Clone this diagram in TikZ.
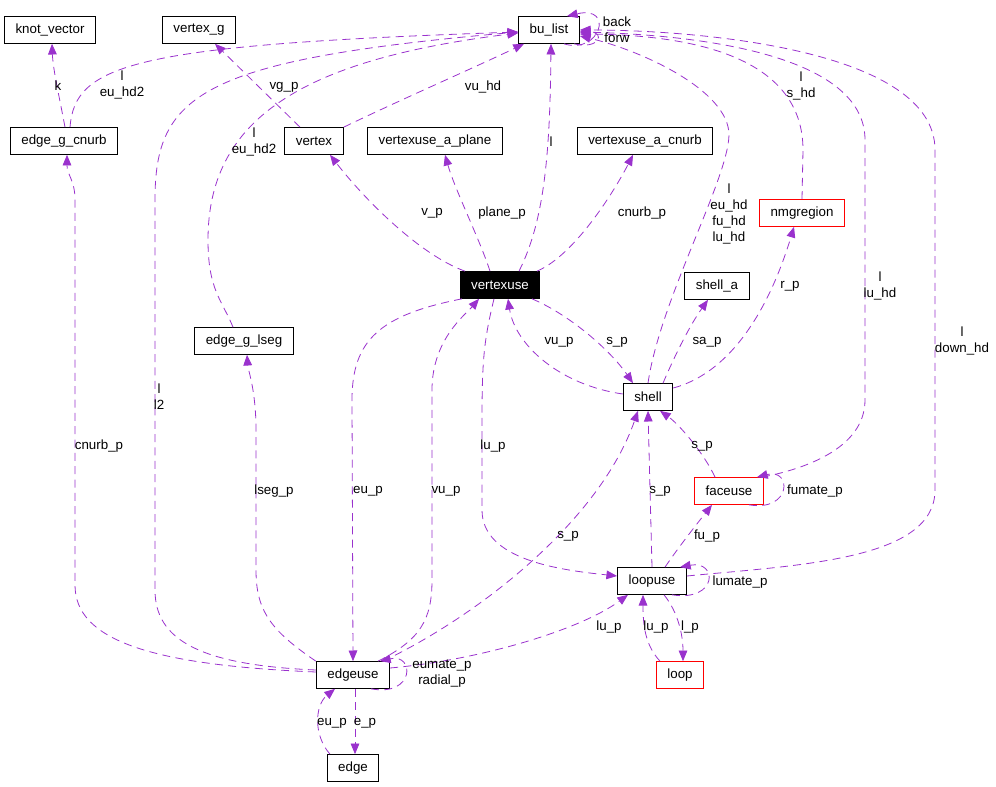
\documentclass[tikz,border=0pt]{standalone}
\usepackage{fontspec}
\setmainfont{Liberation Sans}
\usetikzlibrary{arrows.meta}
\definecolor{orchid}{HTML}{9A32CD}
\begin{document}
\begin{tikzpicture}[x=.75pt,y=-.75pt,>={Triangle[length=8pt,width=6.5pt]},
	cls/.style={draw,line width=.75pt,minimum height=20pt,inner xsep=8.3pt,inner ysep=0pt,font=\fontsize{10}{12}\selectfont},
	redcls/.style={cls,draw=red},
	ptr/.style={->,draw=orchid,line width=.6pt,dash pattern=on 6pt off 4pt},
	lbl/.style={align=center,inner sep=0pt,font=\fontsize{10}{12}\selectfont}]
	\useasboundingbox (0,0) rectangle (996,787);
			\node[cls] (kv) at (50,30) {knot\_vector};
			\node[cls] (vg) at (199,30) {vertex\_g};
			\node[cls] (bl) at (549,30) {bu\_list};
			\node[cls] (egc) at (64,141) {edge\_g\_cnurb};
			\node[cls] (vx) at (314,141) {vertex};
			\node[cls] (vap) at (435,141) {vertexuse\_a\_plane};
			\node[cls] (vac) at (645,141) {vertexuse\_a\_cnurb};
			\node[redcls] (nr) at (802,213) {nmgregion};
			\node[cls,fill=black,text=white] (vu) at (500,285) {vertexuse};
			\node[cls] (sa) at (717,286) {shell\_a};
			\node[cls] (egl) at (244,341) {edge\_g\_lseg};
			\node[cls] (sh) at (648,397) {shell};
			\node[redcls] (fu) at (729,491) {faceuse};
			\node[cls] (lu) at (652,581) {loopuse};
			\node[redcls] (lp) at (680,675) {loop};
			\node[cls] (eu) at (353,675) {edgeuse};
			\node[cls] (ed) at (353,768) {edge};
			\draw[ptr] ([shift={(1,0)}]egc.north) .. controls (60,100) and (53,70) .. ([shift={(2,0)}]kv.south);
			\draw[ptr] ([shift={(6,0)}]egc.north) .. controls (75,65) and (130,45) .. ([shift={(0,2)}]bl.west);
			\draw[ptr] ([shift={(0,-5)}]eu.west) .. controls (200,665) and (155,640) .. (155,590) -- (155,200) .. controls (155,95) and (200,60) .. ([shift={(0,2)}]bl.west);
			\draw[ptr] ([shift={(-11,0)}]egl.north) .. controls (222,300) and (208,290) .. (208,240) .. controls (208,120) and (300,60) .. ([shift={(0,3)}]bl.west);
			\draw[ptr] ([shift={(-14,0)}]vx.north) -- ([shift={(16,0)}]vg.south);
			\draw[ptr] (vx.north east) .. controls (400,100) and (480,65) .. ([shift={(-25,0)}]bl.south);
			\draw[ptr] ([shift={(19,0)}]vu.north) .. controls (545,220) and (550,150) .. ([shift={(2,0)}]bl.south);
			\draw[ptr] (sh.north) .. controls (660,300) and (728,180) .. (729,135) .. controls (729,90) and (640,50) .. ([shift={(0,6)}]bl.east);
			\draw[ptr] (nr.north) -- (803,150) .. controls (803,60) and (700,35) .. ([shift={(0,4)}]bl.east);
			\draw[ptr] ([shift={(-2,0)}]fu.north east) .. controls (800,470) and (865,450) .. (865,400) -- (865,140) .. controls (865,55) and (700,35) .. ([shift={(0,2)}]bl.east);
			\draw[ptr] ([shift={(0,-5)}]lu.east) .. controls (800,565) and (935,560) .. (935,490) -- (935,150) .. controls (935,50) and (700,30) .. (bl.east);
			\draw[ptr] ([shift={(15,0)}]bl.south) .. controls (600,55) and (615,5) .. ([shift={(18,0)}]bl.north);
			\draw[ptr] ([shift={(25,0)}]bl.south) .. controls (600,50) and (605,32) .. ([shift={(0,2)}]bl.east);
			\draw[ptr] ([shift={(-35,0)}]vu.north) .. controls (420,255) and (365,200) .. ([shift={(16,0)}]vx.south);
			\draw[ptr] ([shift={(-10,0)}]vu.north) .. controls (480,240) and (455,190) .. ([shift={(10,0)}]vap.south);
			\draw[ptr] ([shift={(37,0)}]vu.north) .. controls (575,255) and (615,190) .. ([shift={(-12,0)}]vac.south);
			\draw[ptr] ([shift={(0,-9)}]sh.east) .. controls (740,370) and (775,290) .. ([shift={(-8,0)}]nr.south);
			\draw[ptr] ([shift={(15,0)}]sh.north) .. controls (675,355) and (690,325) .. ([shift={(-9,0)}]sa.south);
			\draw[ptr] ([shift={(0,-3)}]sh.west) .. controls (560,385) and (515,345) .. ([shift={(8,0)}]vu.south);
			\draw[ptr] ([shift={(32,0)}]vu.south) .. controls (570,315) and (610,350) .. ([shift={(-15,0)}]sh.north);
			\draw[ptr] (eu.north west) .. controls (270,630) and (256,610) .. (256,570) -- (256,430) .. controls (256,390) and (248,370) .. ([shift={(3,0)}]egl.south);
			\draw[ptr] ([shift={(0,-3)}]eu.west) .. controls (150,665) and (75,640) .. (75,585) -- (75,200) .. controls (75,180) and (67,175) .. ([shift={(3,0)}]egc.south);
			\draw[ptr] ([shift={(-38,0)}]vu.south) .. controls (380,315) and (352,340) .. (352,400) -- (eu.north);
			\draw[ptr] ([shift={(25,0)}]eu.north) .. controls (420,640) and (432,620) .. (432,580) -- (432,390) .. controls (432,340) and (465,315) .. ([shift={(-21,0)}]vu.south);
			\draw[ptr] ([shift={(-6,0)}]vu.south) .. controls (484,340) and (482,360) .. (482,420) -- (482,510) .. controls (482,560) and (560,570) .. ([shift={(0,-5)}]lu.west);
			\draw[ptr] ([shift={(30,0)}]eu.north) .. controls (480,615) and (600,520) .. ([shift={(-10,0)}]sh.south);
			\draw[ptr] (lu.north) -- (sh.south);
			\draw[ptr] ([shift={(-14,0)}]fu.north) .. controls (705,455) and (680,425) .. ([shift={(12,0)}]sh.south);
			\draw[ptr] ([shift={(13,0)}]lu.north) .. controls (680,545) and (700,520) .. ([shift={(-17,0)}]fu.south);
			\draw[ptr] ([shift={(20,0)}]fu.south) .. controls (792,512) and (792,468) .. ([shift={(28,0)}]fu.north);
			\draw[ptr] ([shift={(20,0)}]lu.south) .. controls (718,602) and (718,560) .. ([shift={(28,0)}]lu.north);
			\draw[ptr] ([shift={(0,-7)}]eu.east) .. controls (480,660) and (580,630) .. ([shift={(-24,0)}]lu.south);
			\draw[ptr] ([shift={(-20,0)}]lp.north) .. controls (645,645) and (643,625) .. ([shift={(-9,0)}]lu.south);
			\draw[ptr] ([shift={(12,0)}]lu.south) .. controls (678,612) and (683,635) .. ([shift={(3,0)}]lp.north);
			\draw[ptr] ([shift={(18,0)}]eu.south) .. controls (415,697) and (415,653) .. ([shift={(27,0)}]eu.north);
			\draw[ptr] ([shift={(-23,0)}]ed.north) .. controls (313,735) and (315,705) .. ([shift={(-18,0)}]eu.south);
			\draw[ptr] ([shift={(2,0)}]eu.south) -- ([shift={(2,0)}]ed.north);
			\node[lbl] (l-k) at (58,86) {k};
			\node[lbl] (l-egcbl) at (122,85) {l\\eu\_hd2};
			\node[lbl] (l-vgp) at (284,87) {vg\_p};
			\node[lbl] (l-vuhd) at (483,87) {vu\_hd};
			\node[lbl] (l-eglbl) at (254,142) {l\\eu\_hd2};
			\node[lbl] (l-eubl) at (159,397) {l\\l2};
			\node[lbl] (l-vubl) at (551,142) {l};
			\node[lbl] (l-shbl) at (729,214) {l\\eu\_hd\\fu\_hd\\lu\_hd};
			\node[lbl] (l-nrbl) at (801,86) {l\\s\_hd};
			\node[lbl] (l-fubl) at (880,286) {l\\lu\_hd};
			\node[lbl] (l-lubl) at (962,341) {l\\down\_hd};
			\node[lbl] (l-blbl) at (617,30) {back\\forw};
			\node[lbl] (l-vp) at (432,213) {v\_p};
			\node[lbl] (l-planep) at (502,213) {plane\_p};
			\node[lbl] (l-vacp) at (642,213) {cnurb\_p};
			\node[lbl] (l-rp) at (790,286) {r\_p};
			\node[lbl] (l-sap) at (707,342) {sa\_p};
			\node[lbl] (l-shvu) at (559,342) {vu\_p};
			\node[lbl] (l-vush) at (617,342) {s\_p};
			\node[lbl] (l-lsegp) at (274,491) {lseg\_p};
			\node[lbl] (l-egcp) at (99,446) {cnurb\_p};
			\node[lbl] (l-vueu) at (368,491) {eu\_p};
			\node[lbl] (l-euvu) at (446,491) {vu\_p};
			\node[lbl] (l-vulu) at (493,446) {lu\_p};
			\node[lbl] (l-eush) at (568,536) {s\_p};
			\node[lbl] (l-lush) at (660,491) {s\_p};
			\node[lbl] (l-fush) at (702,446) {s\_p};
			\node[lbl] (l-fup) at (707,536) {fu\_p};
			\node[lbl] (l-fumate) at (815,491) {fumate\_p};
			\node[lbl] (l-lumate) at (740,582) {lumate\_p};
			\node[lbl] (l-eulu) at (609,627) {lu\_p};
			\node[lbl] (l-lplu) at (656,627) {lu\_p};
			\node[lbl] (l-lpp) at (690,627) {l\_p};
			\node[lbl] (l-eueu) at (442,674) {eumate\_p\\radial\_p};
			\node[lbl] (l-edeu) at (332,723) {eu\_p};
			\node[lbl] (l-ep) at (365,723) {e\_p};
		\end{tikzpicture}
\end{document}
